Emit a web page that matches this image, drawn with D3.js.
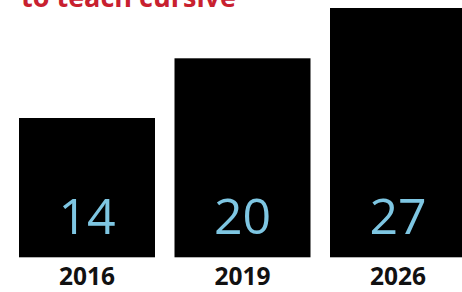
<!DOCTYPE html>
<html><head><meta charset="utf-8">
<script src="https://cdn.jsdelivr.net/npm/d3@7"></script>
<style>html,body{margin:0;padding:0;background:#fff;overflow:hidden}</style>
</head><body>
<svg id="c" width="462" height="292"></svg>
<script>
const categories = ["2016", "2019", "2026"];
const values = [14, 20, 27];
const titleText = "to teach cursive";

const svg = d3.select("#c");
const x = d3.scaleBand().domain(categories).range([19, 466]).paddingInner(0.1254).paddingOuter(0);
const y = d3.scaleLinear().domain([0, 20, 27]).range([257.3, 58.3, 8]);

svg.append("text").attr("x", 21).attr("y", 7.2)
  .attr("font-family", "Open Sans").attr("font-weight", 700).attr("font-size", 27)
  .attr("fill", "#c8202f").text(titleText);

const g = svg.selectAll("g.bar").data(categories).enter().append("g").attr("class", "bar");
g.append("rect")
  .attr("x", d => x(d)).attr("width", x.bandwidth())
  .attr("y", (d, i) => y(values[i])).attr("height", (d, i) => y(0) - y(values[i]))
  .attr("fill", "#000");
g.append("text")
  .attr("x", d => x(d) + x.bandwidth() / 2).attr("y", 233.5)
  .attr("text-anchor", "middle").attr("font-family", "Open Sans").attr("font-weight", 400)
  .attr("font-size", 50).attr("fill", "#7ec6e2")
  .text((d, i) => values[i]);
g.append("text")
  .attr("x", d => x(d) + x.bandwidth() / 2).attr("y", 285)
  .attr("text-anchor", "middle").attr("font-family", "Open Sans").attr("font-weight", 700)
  .attr("font-size", 24.5).attr("fill", "#111")
  .text(d => d);
</script>
</body></html>
